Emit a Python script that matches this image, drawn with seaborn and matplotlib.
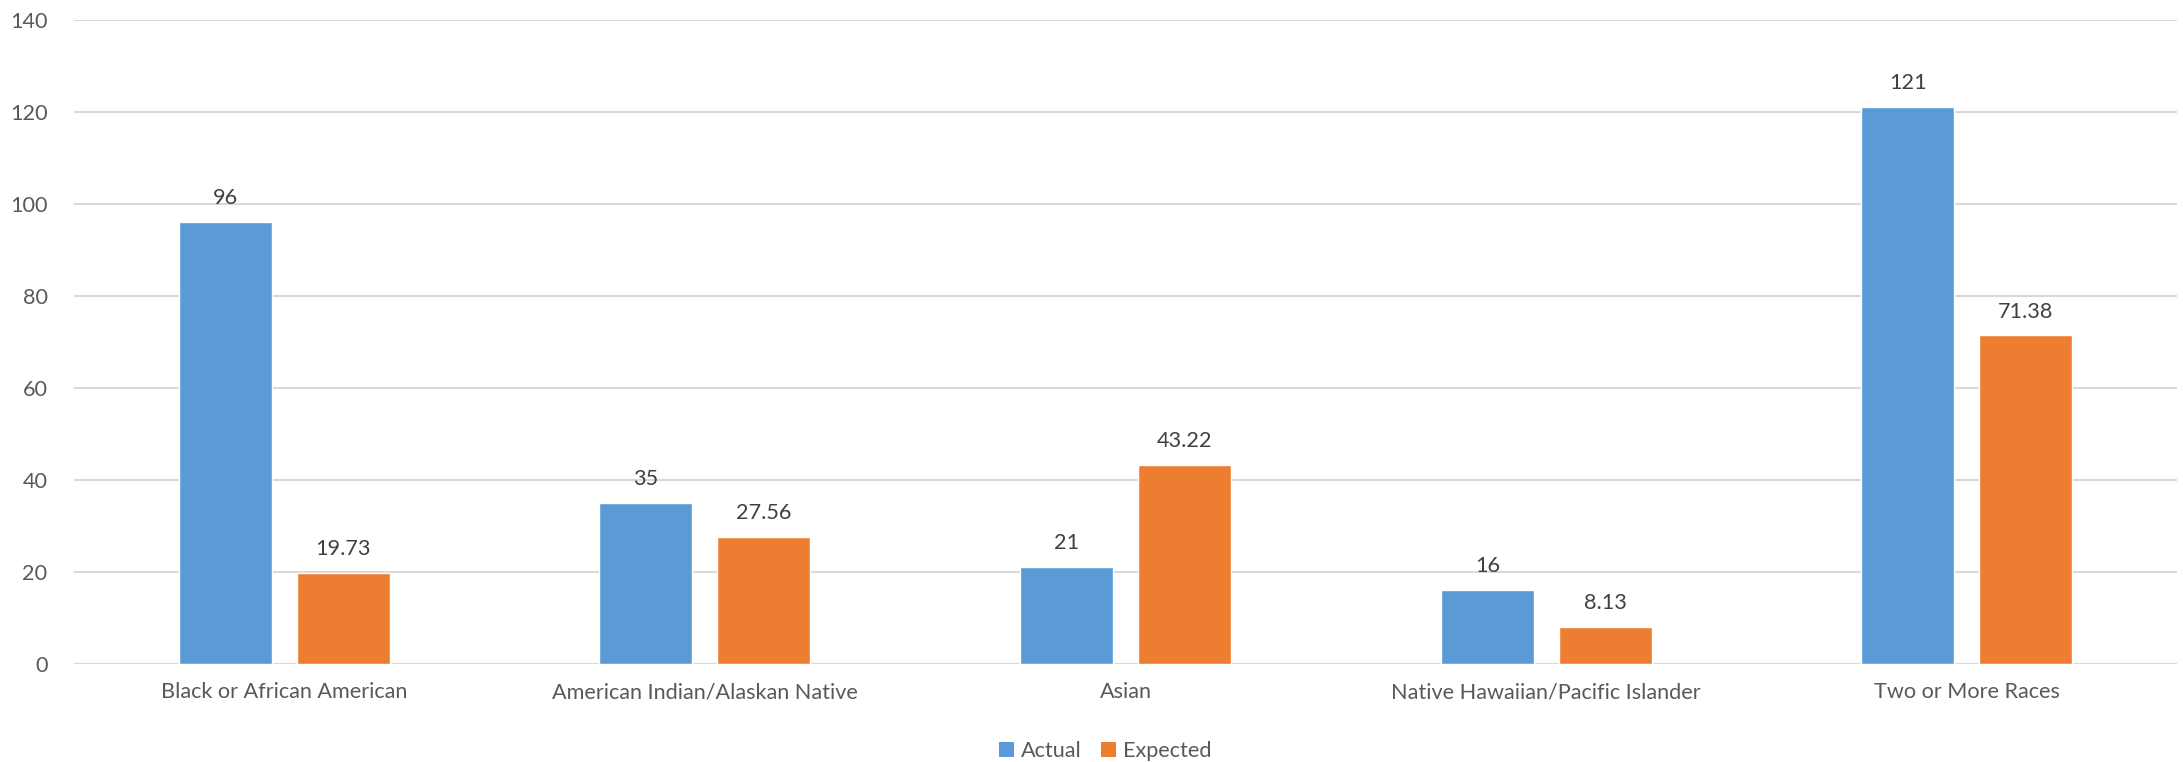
import matplotlib
matplotlib.use("Agg")
import matplotlib.pyplot as plt
from matplotlib.patches import Patch
import seaborn as sns
import pandas as pd

categories = [
    "Black or African American",
    "American Indian/Alaskan Native",
    "Asian",
    "Native Hawaiian/Pacific Islander",
    "Two or More Races",
]
actual = [96, 35, 21, 16, 121]
expected = [19.73, 27.56, 43.22, 8.13, 71.38]
series_names = ["Actual", "Expected"]
y_ticks = [0, 20, 40, 60, 80, 100, 120, 140]

colors = {"Actual": "#5B9BD5", "Expected": "#ED7D31"}
text_color = "#595959"
grid_color = "#D9D9D9"

df = pd.DataFrame({
    "category": categories * 2,
    "series": [series_names[0]] * len(categories) + [series_names[1]] * len(categories),
    "value": actual + expected,
})

sns.set_theme(style="white")
plt.rcParams["font.family"] = ["Lato", "DejaVu Sans"]

fig = plt.figure(figsize=(21.83, 7.62), dpi=100)
ax = fig.add_axes([0.0339, 0.1286, 0.9634, 0.8458])

sns.barplot(
    data=df, x="category", y="value", hue="series", order=categories,
    hue_order=series_names, palette=colors, width=0.561, gap=0.212,
    saturation=1, errorbar=None, legend=False, ax=ax, zorder=3,
)

for container in ax.containers:
    vals = container.datavalues
    ax.bar_label(container, labels=[f"{v:g}" for v in vals], padding=10,
                 fontsize=15.6, color="#404040")

ax.set_ylim(0, 140)
ax.set_xlim(-0.5, len(categories) - 0.5)
ax.set_yticks(y_ticks)
ax.yaxis.grid(True, color=grid_color, linewidth=1.5, zorder=0)
ax.set_axisbelow(True)
for s in ax.spines.values():
    s.set_visible(False)
ax.axhline(0, color=grid_color, linewidth=1.5, zorder=1)
ax.set_xlabel("")
ax.set_ylabel("")
ax.tick_params(axis="both", length=0, labelsize=15.6, labelcolor=text_color)
ax.tick_params(axis="x", pad=13)
ax.tick_params(axis="y", pad=19)

handles = [Patch(facecolor=colors[n], edgecolor="none", label=n) for n in series_names]
fig.legend(handles=handles, loc="lower center", bbox_to_anchor=(0.5063, -0.024),
           ncol=2, frameon=False, fontsize=15.6, handlelength=0.7, handleheight=0.7,
           handletextpad=0.3, columnspacing=0.9, labelcolor=text_color)

fig.savefig("out.png", dpi=100, facecolor="white")
